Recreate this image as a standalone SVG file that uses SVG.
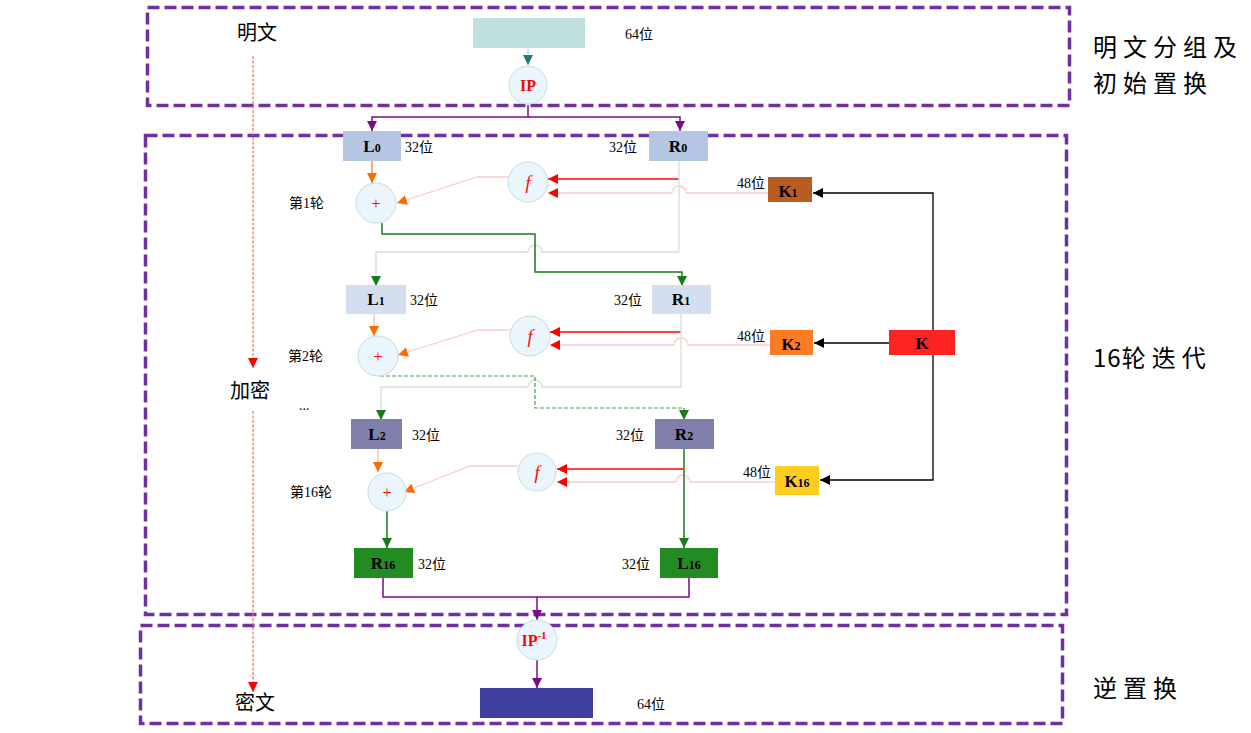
<svg xmlns="http://www.w3.org/2000/svg" width="1251" height="733" viewBox="0 0 1251 733">
<style>
.frame{fill:none;stroke:#7030A0;stroke-width:3.5;stroke-dasharray:12 5}
.cjk{font-family:"Noto Sans CJK SC","Liberation Serif",serif;fill:#000}
.bits{font-family:"Liberation Serif","Noto Sans CJK SC",serif;font-size:14px;fill:#000}
.lbl{font-family:"Liberation Serif","Noto Sans CJK SC",serif;font-size:17px;font-weight:bold;fill:#000}
.sub{font-size:12px}
.circ{fill:#EAF6FC;stroke:#C5DCE2;stroke-width:1}
.op{font-family:"Liberation Serif",serif;fill:#FF0000}
.side{font-family:"Noto Sans CJK SC",sans-serif;font-size:24px;letter-spacing:6px;fill:#000}
.c-purple{fill:none;stroke:#7B0C84;stroke-width:1.5}
.c-green{fill:none;stroke:#1A7A1A;stroke-width:1.5}
.c-light{fill:none;stroke:#D2E2D2;stroke-width:1.3}
.c-red{fill:none;stroke:#FF0000;stroke-width:1.5}
.c-pink{fill:none;stroke:#FFCACA;stroke-width:1.3}
.c-orange{fill:none;stroke:#FF7A1A;stroke-width:1.3}
.c-lorange{fill:none;stroke:#FFB48A;stroke-width:1.2}
.c-black{fill:none;stroke:#000;stroke-width:1.3}
.c-dash{fill:none;stroke:#FF6A6A;stroke-width:1.2;stroke-dasharray:3 1.5}
.c-gdash{fill:none;stroke:#4A9A4A;stroke-width:1.2;stroke-dasharray:4 2}
</style>
<defs>
<marker id="aPurple" viewBox="0 0 10 10" refX="10" refY="5" markerWidth="10" markerHeight="10" markerUnits="userSpaceOnUse" orient="auto"><path d="M0,0 L10,5 L0,10 z" fill="#7B0C84"/></marker>
<marker id="aGreen" viewBox="0 0 10 10" refX="10" refY="5" markerWidth="10" markerHeight="10" markerUnits="userSpaceOnUse" orient="auto"><path d="M0,0 L10,5 L0,10 z" fill="#1A7A1A"/></marker>
<marker id="aOrange" viewBox="0 0 10 10" refX="10" refY="5" markerWidth="10" markerHeight="10" markerUnits="userSpaceOnUse" orient="auto"><path d="M0,0 L10,5 L0,10 z" fill="#FF6A00"/></marker>
<marker id="aRed" viewBox="0 0 10 10" refX="10" refY="5" markerWidth="10" markerHeight="10" markerUnits="userSpaceOnUse" orient="auto"><path d="M0,0 L10,5 L0,10 z" fill="#FF0000"/></marker>
<marker id="aBlack" viewBox="0 0 10 10" refX="10" refY="5" markerWidth="10" markerHeight="10" markerUnits="userSpaceOnUse" orient="auto"><path d="M0,0 L10,5 L0,10 z" fill="#000"/></marker>
<marker id="aTeal" viewBox="0 0 10 10" refX="10" refY="5" markerWidth="10" markerHeight="10" markerUnits="userSpaceOnUse" orient="auto"><path d="M0,0 L10,5 L0,10 z" fill="#1F7A7A"/></marker>
</defs>
<rect width="1251" height="733" fill="#fff"/>

<g id="frames">
<rect class="frame" x="147.5" y="7.5" width="922" height="98"/>
<rect class="frame" x="145.5" y="135.5" width="921" height="479"/>
<rect class="frame" x="140.5" y="625.5" width="922" height="98"/>
</g>

<g id="side-labels">
<text class="side" x="1093" y="56">明文分组及</text>
<text class="side" x="1093" y="92">初始置换</text>
<text class="side" x="1093" y="367"><tspan letter-spacing="1">16</tspan>轮迭代</text>
<text class="side" x="1093" y="697">逆置换</text>
</g>

<g id="connectors">
<path class="c-dash" d="M253,56 V368" marker-end="url(#aRed)"/>
<path class="c-dash" d="M253,411 V692" marker-end="url(#aRed)"/>
<path d="M528,48 V65" fill="none" stroke="#A8CACA" stroke-width="1" marker-end="url(#aTeal)"/>
<path class="c-purple" d="M528,105 V117 H372 V131" marker-end="url(#aPurple)"/>
<path class="c-purple" d="M528,117 H680 V131" marker-end="url(#aPurple)"/>
<!-- round 1 -->
<path class="c-orange" d="M372,161 V183" marker-end="url(#aOrange)"/>
<path class="c-red" d="M679,179 H548" marker-end="url(#aRed)"/>
<path class="c-pink" d="M768,193 H686 A7 7 0 0 0 672,193 H548" marker-end="url(#aRed)"/>
<path class="c-pink" d="M508,177 H477 L397,203" marker-end="url(#aOrange)"/>
<path class="c-light" d="M679,161 V252 H542 A7 7 0 0 0 528,252 H376 V278"/>
<path d="M376,277 V286" fill="none" stroke="#1A7A1A" stroke-width="1" marker-end="url(#aGreen)"/>
<path class="c-green" d="M382,223 V234 H535 V272 H682 V286" marker-end="url(#aGreen)"/>
<!-- round 2 -->
<path class="c-lorange" d="M374,314 V336" marker-end="url(#aOrange)"/>
<path class="c-red" d="M681,332 H550" marker-end="url(#aRed)"/>
<path class="c-pink" d="M770,345 H688 A7 7 0 0 0 674,345 H550" marker-end="url(#aRed)"/>
<path class="c-pink" d="M510,330 H478 L398,355" marker-end="url(#aOrange)"/>
<path class="c-light" d="M681,314 V387 H542 A7 7 0 0 0 528,387 H381 V411"/>
<path d="M381,410 V420" fill="none" stroke="#1A7A1A" stroke-width="1" marker-end="url(#aGreen)"/>
<path class="c-gdash" d="M380,376 H535 V408 H684 V420" marker-end="url(#aGreen)"/>
<!-- round 16 -->
<path class="c-lorange" d="M378,449 V472" marker-end="url(#aOrange)"/>
<path class="c-red" d="M683,469 H557" marker-end="url(#aRed)"/>
<path class="c-pink" d="M775,482 H690 A7 7 0 0 0 676,482 H557" marker-end="url(#aRed)"/>
<path class="c-pink" d="M518,466 H470 L404,492" marker-end="url(#aOrange)"/>
<path class="c-green" d="M387,511 V548" marker-end="url(#aGreen)"/>
<path class="c-green" d="M684,449 V548" marker-end="url(#aGreen)"/>
<!-- output -->
<path class="c-purple" d="M383,578 V597 H689 V578"/>
<path class="c-purple" d="M537,597 V620" marker-end="url(#aPurple)"/>
<path class="c-purple" d="M537,660 V688" marker-end="url(#aPurple)"/>
<!-- key schedule -->
<path class="c-black" d="M933,330 V193 H813" marker-end="url(#aBlack)"/>
<path class="c-black" d="M889,343 H814" marker-end="url(#aBlack)"/>
<path class="c-black" d="M933,355 V480 H820" marker-end="url(#aBlack)"/>
</g>

<g id="left-labels">
<text class="cjk" x="257" y="40" font-size="20" text-anchor="middle">明文</text>
<text class="cjk" x="250" y="398" font-size="20" text-anchor="middle">加密</text>
<text class="cjk" x="255" y="710" font-size="20" text-anchor="middle">密文</text>
<text class="bits" x="289" y="208">第1轮</text>
<text class="bits" x="288" y="361">第2轮</text>
<text class="bits" x="290" y="497">第16轮</text>
<text class="bits" x="299" y="410" font-size="18">...</text>
</g>

<g id="plaintext">
<rect x="473" y="18" width="112" height="30" fill="#BFE0DE"/>
<text class="bits" x="625" y="39">64位</text>
</g>
<g id="IP">
<circle class="circ" cx="528" cy="85" r="19"/>
<text class="op" x="528" y="91" font-size="16" font-weight="bold" text-anchor="middle">IP</text>
</g>

<g id="L0"><rect x="343" y="131" width="58" height="30" fill="#B4C6E3"/><text class="lbl" x="372" y="152" text-anchor="middle">L<tspan class="sub">0</tspan></text><text class="bits" x="405" y="152">32位</text></g>
<g id="R0"><rect x="649" y="131" width="59" height="30" fill="#B4C6E3"/><text class="lbl" x="678" y="152" text-anchor="middle">R<tspan class="sub">0</tspan></text><text class="bits" x="609" y="152">32位</text></g>
<g id="f1"><circle class="circ" cx="528" cy="182" r="20"/><text class="op" x="528" y="189" font-size="18" font-style="italic" text-anchor="middle">f</text></g>
<g id="xor1"><circle class="circ" cx="376" cy="203" r="20"/><text class="op" x="376" y="209" font-size="16" text-anchor="middle">+</text></g>
<g id="K1"><rect x="768" y="177" width="44" height="25" fill="#B85C22"/><text class="lbl" x="788" y="197" font-size="18" text-anchor="middle">K<tspan class="sub">1</tspan></text><text class="bits" x="737" y="188">48位</text></g>

<g id="L1"><rect x="346" y="285" width="60" height="29" fill="#D3DFEF"/><text class="lbl" x="376" y="305" text-anchor="middle">L<tspan class="sub">1</tspan></text><text class="bits" x="410" y="305">32位</text></g>
<g id="R1"><rect x="652" y="285" width="59" height="29" fill="#D3DFEF"/><text class="lbl" x="681" y="305" text-anchor="middle">R<tspan class="sub">1</tspan></text><text class="bits" x="614" y="305">32位</text></g>
<g id="f2"><circle class="circ" cx="530" cy="336" r="20"/><text class="op" x="530" y="343" font-size="18" font-style="italic" text-anchor="middle">f</text></g>
<g id="xor2"><circle class="circ" cx="378" cy="356" r="20"/><text class="op" x="378" y="362" font-size="16" text-anchor="middle">+</text></g>
<g id="K2"><rect x="770" y="330" width="43" height="25" fill="#FC7C25"/><text class="lbl" x="791" y="350" font-size="18" text-anchor="middle">K<tspan class="sub">2</tspan></text><text class="bits" x="737" y="341">48位</text></g>
<g id="K"><rect x="889" y="330" width="66" height="25" fill="#FF2222"/><text class="lbl" x="922" y="349" font-size="18" text-anchor="middle">K</text></g>

<g id="L2"><rect x="351" y="419" width="51" height="30" fill="#7F7FAA"/><text class="lbl" x="377" y="440" text-anchor="middle">L<tspan class="sub">2</tspan></text><text class="bits" x="412" y="440">32位</text></g>
<g id="R2"><rect x="655" y="419" width="59" height="30" fill="#7F7FAA"/><text class="lbl" x="684" y="440" text-anchor="middle">R<tspan class="sub">2</tspan></text><text class="bits" x="616" y="440">32位</text></g>
<g id="f16"><circle class="circ" cx="537" cy="472" r="19"/><text class="op" x="537" y="479" font-size="18" font-style="italic" text-anchor="middle">f</text></g>
<g id="xor16"><circle class="circ" cx="387" cy="492" r="19"/><text class="op" x="387" y="498" font-size="16" text-anchor="middle">+</text></g>
<g id="K16"><rect x="775" y="466" width="44" height="29" fill="#FFCC22"/><text class="lbl" x="797" y="487" font-size="18" text-anchor="middle">K<tspan class="sub">16</tspan></text><text class="bits" x="743" y="477">48位</text></g>

<g id="R16"><rect x="354" y="548" width="59" height="30" fill="#228B22"/><text class="lbl" x="383" y="569" text-anchor="middle">R<tspan class="sub">16</tspan></text><text class="bits" x="418" y="569">32位</text></g>
<g id="L16"><rect x="660" y="548" width="58" height="30" fill="#228B22"/><text class="lbl" x="689" y="569" text-anchor="middle">L<tspan class="sub">16</tspan></text><text class="bits" x="622" y="569">32位</text></g>

<g id="IPinv">
<circle class="circ" cx="537" cy="640" r="20"/>
<text class="op" x="534" y="646" font-size="16" font-weight="bold" text-anchor="middle">IP<tspan font-size="11" dy="-7">-1</tspan></text>
</g>
<g id="ciphertext">
<rect x="480" y="688" width="113" height="30" fill="#3F3F9F"/>
<text class="bits" x="637" y="709">64位</text>
</g>
</svg>
